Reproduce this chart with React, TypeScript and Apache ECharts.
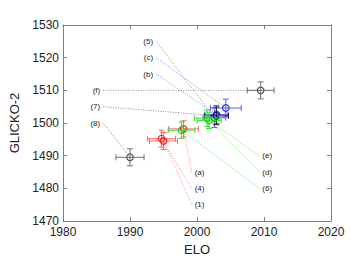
import React, { useEffect, useRef } from "react";
import * as echarts from "echarts";

// Points
const names = ["(5)", "(c)", "(b)", "(f)", "(7)", "(8)", "(a)", "(4)", "(1)", "(e)", "(d)", "(6)"];
const groups = ["blue", "blue", "blue", "gray", "dark", "gray", "red", "red", "red", "green", "green", "green"];
const elo = [2002.6, 2004.3, 2002.9, 2009.5, 2002.9, 1990.0, 1998.0, 1994.7, 1995.0, 2001.8, 2001.5, 1997.7];
const glicko = [1501.6, 1504.6, 1502.6, 1510.0, 1502.2, 1489.5, 1498.2, 1495.2, 1494.5, 1500.8, 1501.5, 1497.8];
const eloErr = [1.7, 2.3, 1.7, 2.0, 1.8, 2.1, 2.2, 2.1, 2.1, 1.8, 1.9, 2.0];
const glickoErr = [3.0, 2.7, 2.8, 2.6, 2.7, 2.6, 2.5, 2.6, 2.6, 2.5, 2.5, 2.5];
// Label anchors (where each dotted leader starts)
const labelElo = [1993.9, 1993.9, 1993.9, 1986.0, 1986.0, 1986.0, 1999.2, 1999.2, 1999.2, 2009.3, 2009.3, 2009.3];
const labelGlicko = [1525, 1520, 1515, 1510, 1505, 1500, 1485, 1480, 1475, 1490, 1485, 1480];
const labelSide = ["left", "left", "left", "left", "left", "left", "right", "right", "right", "right", "right", "right"];

const xTicks = { min: 1980, max: 2020, interval: 10 };
const yTicks = { min: 1470, max: 1530, interval: 10 };

const palette: Record<string, { mark: string; bar: string; lead: string }> = {
  red: { mark: "#ff2020", bar: "#ff6a6a", lead: "#ff8a8a" },
  green: { mark: "#22cc22", bar: "#33e033", lead: "#66e866" },
  blue: { mark: "#3333ff", bar: "#5a5aff", lead: "#8a8aff" },
  gray: { mark: "#555555", bar: "#707070", lead: "#8a8a8a" },
  dark: { mark: "#1a1a3a", bar: "#202030", lead: "#8a8a8a" },
};

export default function App() {
  const ref = useRef<HTMLDivElement>(null);
  useEffect(() => {
    if (!ref.current) return;
    const chart = echarts.init(ref.current, undefined, { renderer: "svg" });
    const idx = names.map((_, i) => i);
    const font = "Liberation Sans, Arial, sans-serif";
    const plain = (v: number) => String(v);
    chart.setOption({
      animation: false,
      grid: { left: 63, right: 30, top: 25, bottom: 42 },
      xAxis: [
        {
          type: "value", ...xTicks,
          name: "ELO", nameLocation: "middle", nameGap: 20,
          nameTextStyle: { fontFamily: font, fontSize: 13, color: "#222" },
          axisLine: { lineStyle: { color: "#808080" } },
          axisTick: { inside: true, length: 4, lineStyle: { color: "#808080" } },
          axisLabel: { fontFamily: font, fontSize: 12, color: "#222", margin: 5, formatter: plain },
          splitLine: { show: false },
        },
        {
          type: "value", position: "top", ...xTicks,
          axisLine: { lineStyle: { color: "#808080" } },
          axisTick: { inside: true, length: 4, lineStyle: { color: "#808080" } },
          axisLabel: { show: false }, splitLine: { show: false },
        },
      ],
      yAxis: [
        {
          type: "value", ...yTicks,
          name: "GLICKO-2", nameLocation: "middle", nameGap: 32,
          nameTextStyle: { fontFamily: font, fontSize: 13, color: "#222" },
          axisLine: { show: true, lineStyle: { color: "#808080" } },
          axisTick: { show: true, inside: true, length: 4, lineStyle: { color: "#808080" } },
          axisLabel: { fontFamily: font, fontSize: 12, color: "#222", margin: 4, formatter: plain },
          splitLine: { show: false },
        },
        {
          type: "value", position: "right", ...yTicks,
          axisLine: { show: true, lineStyle: { color: "#808080" } },
          axisTick: { show: true, inside: true, length: 4, lineStyle: { color: "#808080" } },
          axisLabel: { show: false }, splitLine: { show: false },
        },
      ],
      series: [
        {
          type: "custom",
          coordinateSystem: "cartesian2d",
          data: idx,
          z: 1,
          renderItem: (params: any, api: any) => {
            const i = params.dataIndex;
            const c = palette[groups[i]];
            const a = api.coord([labelElo[i], labelGlicko[i]]);
            const p = api.coord([elo[i], glicko[i]]);
            const left = labelSide[i] === "left";
            return {
              type: "group",
              children: [
                {
                  type: "line",
                  shape: { x1: a[0], y1: a[1], x2: p[0], y2: p[1] },
                  style: { stroke: c.lead, lineWidth: 1, lineDash: [1, 1.5] },
                },
                {
                  type: "text",
                  x: left ? a[0] - 3 : a[0] + 3,
                  y: a[1],
                  style: {
                    text: names[i],
                    fontFamily: font,
                    fontSize: 8,
                    fill: "#222",
                    align: left ? "right" : "left",
                    verticalAlign: "middle",
                  },
                },
              ],
            };
          },
        },
        {
          type: "custom",
          coordinateSystem: "cartesian2d",
          data: idx,
          z: 2,
          renderItem: (params: any, api: any) => {
            const i = params.dataIndex;
            const c = palette[groups[i]];
            const p = api.coord([elo[i], glicko[i]]);
            const l = api.coord([elo[i] - eloErr[i], glicko[i]]);
            const r = api.coord([elo[i] + eloErr[i], glicko[i]]);
            const t = api.coord([elo[i], glicko[i] + glickoErr[i]]);
            const b = api.coord([elo[i], glicko[i] - glickoErr[i]]);
            const cap = 3;
            const st = { stroke: c.bar, lineWidth: 1 };
            return {
              type: "group",
              children: [
                { type: "line", shape: { x1: l[0], y1: p[1], x2: r[0], y2: p[1] }, style: st },
                { type: "line", shape: { x1: l[0], y1: p[1] - cap, x2: l[0], y2: p[1] + cap }, style: st },
                { type: "line", shape: { x1: r[0], y1: p[1] - cap, x2: r[0], y2: p[1] + cap }, style: st },
                { type: "line", shape: { x1: p[0], y1: t[1], x2: p[0], y2: b[1] }, style: st },
                { type: "line", shape: { x1: p[0] - cap, y1: t[1], x2: p[0] + cap, y2: t[1] }, style: st },
                { type: "line", shape: { x1: p[0] - cap, y1: b[1], x2: p[0] + cap, y2: b[1] }, style: st },
                {
                  type: "circle",
                  shape: { cx: p[0], cy: p[1], r: 3.3 },
                  style: { fill: "none", stroke: c.mark, lineWidth: 1.2 },
                },
              ],
            };
          },
        },
      ],
    });
    return () => chart.dispose();
  }, []);
  return <div ref={ref} style={{ width: 361, height: 263, position: "absolute", left: 0, top: 0 }} />;
}
